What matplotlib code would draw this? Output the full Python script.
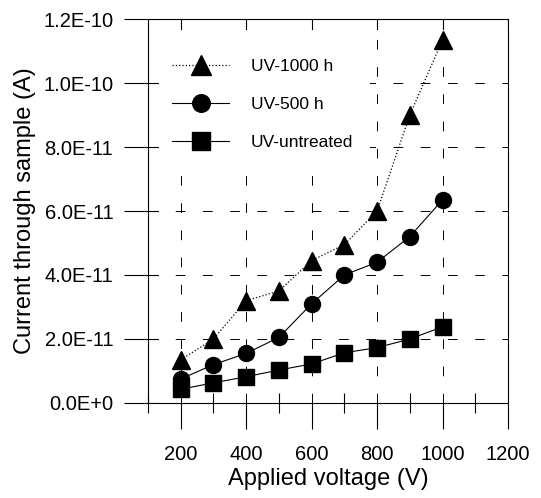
import matplotlib
matplotlib.use("Agg")
import matplotlib.pyplot as plt
from matplotlib.patches import Rectangle
from matplotlib.ticker import FixedLocator, MultipleLocator

plt.rcParams['font.family'] = ['Liberation Sans', 'DejaVu Sans']

voltage = [200, 300, 400, 500, 600, 700, 800, 900, 1000]
uv_1000h = [1.35e-11, 2.0e-11, 3.2e-11, 3.5e-11, 4.45e-11, 4.95e-11, 6.0e-11, 9.0e-11, 11.35e-11]
uv_500h = [0.75e-11, 1.2e-11, 1.55e-11, 2.05e-11, 3.1e-11, 4.0e-11, 4.4e-11, 5.2e-11, 6.35e-11]
uv_untreated = [0.43e-11, 0.63e-11, 0.82e-11, 1.03e-11, 1.22e-11, 1.57e-11, 1.73e-11, 2.0e-11, 2.38e-11]

x_ticks = [200, 400, 600, 800, 1000, 1200]
y_ticks = [0.0, 2.0e-11, 4.0e-11, 6.0e-11, 8.0e-11, 1.0e-10, 1.2e-10]
y_tick_labels = ['0.0E+0', '2.0E-11', '4.0E-11', '6.0E-11', '8.0E-11', '1.0E-10', '1.2E-10']

fig = plt.figure(figsize=(5.41, 4.98), dpi=100)
ax = fig.add_axes([0.2736, 0.1908, 0.6654, 0.771])

ax.plot(voltage, uv_1000h, linestyle=':', color='black', linewidth=0.9,
        marker='^', markersize=12.5, label='UV-1000 h', zorder=3)
ax.plot(voltage, uv_500h, linestyle='-', color='black', linewidth=0.8,
        marker='o', markersize=11.5, label='UV-500 h', zorder=3)
ax.plot(voltage, uv_untreated, linestyle='-', color='black', linewidth=0.8,
        marker='s', markersize=11.5, label='UV-untreated', zorder=3)

ax.set_xlim(100, 1200)
ax.set_ylim(0, 1.2e-10)

ax.xaxis.set_major_locator(FixedLocator(x_ticks))
ax.xaxis.set_minor_locator(MultipleLocator(100))
ax.set_yticks(y_ticks)
ax.set_yticklabels(y_tick_labels)

ax.tick_params(axis='x', which='major', direction='out', length=19, width=0.8,
               labelsize=14.5, pad=11)
ax.tick_params(axis='x', which='minor', direction='inout', length=14, width=0.8)
ax.tick_params(axis='y', which='major', direction='out', length=17, width=0.8,
               labelsize=14.5, pad=8)

for s in ax.spines.values():
    s.set_linewidth(0.8)

# dashed grid at the labelled values
grid_style = dict(color='black', linewidth=0.7, linestyle=(0, (10, 18)), zorder=1)
for yv in y_ticks[1:-1]:
    ax.axhline(yv, **grid_style)
for xv in x_ticks[:-1]:
    ax.axvline(xv, **grid_style)

# white panel behind the legend that hides the grid there
ax.add_patch(Rectangle((0, 0.633), 0.617, 0.367, transform=ax.transAxes,
                       facecolor='white', edgecolor='none', zorder=1.2))

# short solid stubs just inside the left and top edges
stub_style = dict(color='black', linewidth=0.8, zorder=2)
for yv in y_ticks:
    ax.axhline(yv, xmin=0, xmax=0.027, **stub_style)
for xv in x_ticks:
    ax.axvline(xv, ymin=0.975, ymax=1, **stub_style)

ax.set_xlabel('Applied voltage (V)', fontsize=17, labelpad=3)
ax.set_ylabel('Current through sample (A)', fontsize=17, labelpad=5)

leg = ax.legend(loc='upper left', frameon=False, fontsize=12.5, handlelength=3.3,
                handletextpad=1.25, labelspacing=1.3, borderaxespad=0,
                markerscale=1.1, bbox_to_anchor=(0.047, 0.914))
leg.set_zorder(5)

fig.savefig('out.png', dpi=100)
